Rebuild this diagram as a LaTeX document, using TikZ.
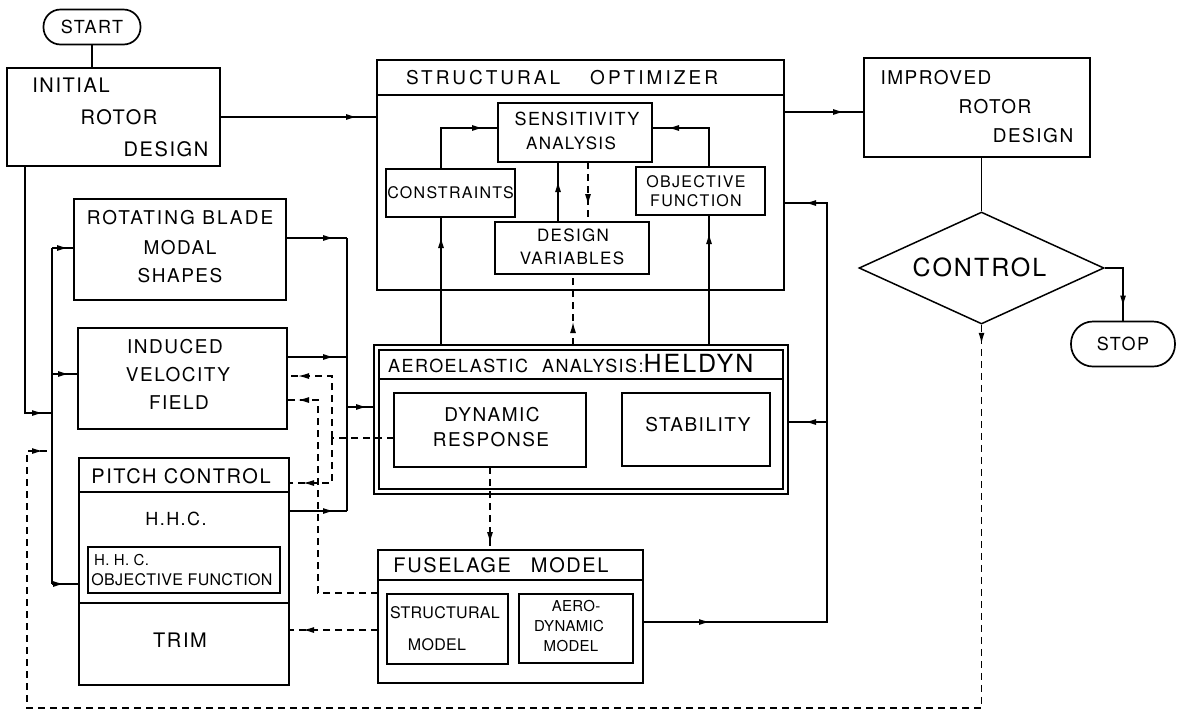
\documentclass[tikz,border=0pt]{standalone}
\usepackage{fontspec}
\setmainfont{TeX Gyre Heros}[LetterSpace=8]
\newfontfamily\tightfont{TeX Gyre Heros}[LetterSpace=2]
\usetikzlibrary{arrows.meta,shapes.geometric,decorations.markings}
\tikzset{
  ln/.style={line width=1.2pt},
  bl/.style={line width=1.7pt},
  bx/.style={draw, line width=1.7pt, inner sep=0pt, outer sep=0pt},
  ibx/.style={draw, line width=1.3pt, inner sep=0pt, outer sep=0pt},
  dsh/.style={dash pattern=on 7pt off 5pt},
  ah/.tip={Latex[length=11pt,width=6pt]},
  ar/.style={postaction={decorate}, decoration={markings, mark=at position #1 with {\arrow{ah}}}},
  arr/.style 2 args={postaction={decorate}, decoration={markings, mark=at position #1 with {\arrow{ah}}, mark=at position #2 with {\arrow{ah}}}},
  tx/.style={inner sep=0pt, font=\fontsize{#1}{#1}\selectfont},
  tt/.style={inner sep=0pt, font=\tightfont\fontsize{#1}{#1}\selectfont},
}
\begin{document}
\begin{tikzpicture}[x=1pt,y=-1pt]
\useasboundingbox (0,0) rectangle (1177,713);

% ---------- helper coordinates ----------
\coordinate (y95) at (0,95);
\coordinate (y379) at (0,379);
\coordinate (y492) at (0,492);
\coordinate (y603) at (0,603);
\coordinate (y580) at (0,580);
\coordinate (c25) at (25,0);
\coordinate (b413) at (52,413);
\coordinate (b451) at (52,451);
\coordinate (b248) at (52,248);
\coordinate (b374) at (52,374);
\coordinate (b584) at (52,584);
\coordinate (r238) at (347,238);
\coordinate (r357) at (347,357);
\coordinate (r407) at (347,407);
\coordinate (r511) at (347,511);
\coordinate (d438) at (332,438);
\coordinate (d376) at (332,376);
\coordinate (d483) at (332,483);
\coordinate (e593) at (318,593);
\coordinate (e400) at (318,400);
\coordinate (t630) at (300,630);
\coordinate (c441) at (441,300);
\coordinate (c709) at (709,300);
\coordinate (c573) at (573,300);
\coordinate (c558) at (558,190);
\coordinate (c588) at (588,190);
\coordinate (s128) at (575,128);
\coordinate (i112) at (820,112);
\coordinate (k622) at (827,622);
\coordinate (k203) at (827,203);
\coordinate (k422) at (827,422);
\coordinate (fb1) at (27,708);

% ---------- boxes ----------
\node[bx, rounded corners=17pt, minimum width=97pt, minimum height=35pt, tx=18] (start) at (92,27) {START};

\node[bx, minimum width=213pt, minimum height=98pt] (init) at (113.5,117) {};
\node[tx=20] (initA) at (71,85) {INITIAL};
\node[tx=20] (initB) at (119,117) {ROTOR};
\node[tx=20] (initC) at (166,149) {DESIGN};

\node[bx, minimum width=212pt, minimum height=101pt] (rot) at (180,249.5) {};
\node[inner sep=0pt, font={\fontsize{19}{19}\selectfont\addfontfeatures{LetterSpace=11}}] (rotA) at (180,218) {ROTATING BLADE};
\node[tx=19] (rotB) at (180,248) {MODAL};
\node[tx=19] (rotC) at (180,276) {SHAPES};

\node[bx, minimum width=209pt, minimum height=101pt] (ind) at (182.5,378.5) {};
\node[tx=19] (indA) at (175,347) {INDUCED};
\node[tx=19] (indB) at (178,375) {VELOCITY};
\node[tx=19] (indC) at (179,403) {FIELD};

\node[bx, minimum width=210pt, minimum height=227pt] (pitch) at (184,571.5) {};
\draw[bl] (pitch.west |- y492) -- (pitch.east |- y492);
\draw[bl] (pitch.west |- y603) -- (pitch.east |- y603);
\node[tx=20] (pitchT) at (181,476) {PITCH CONTROL};
\node[tx=18] (hhcT) at (176,519) {H.H.C.};
\node[ibx, minimum width=192pt, minimum height=46pt] (hhc) at (184,570) {};
\node[tt=15, anchor=west] (hhcA) at (94,560) {H. H. C.};
\node[tt=16] (hhcB) at (182,580) {OBJECTIVE FUNCTION};
\node[tx=20] (trimT) at (180,640) {TRIM};

\node[bx, minimum width=407pt, minimum height=230pt] (so) at (580.5,175) {};
\draw[bl] (so.west |- y95) -- (so.east |- y95);
\node[inner sep=0pt, font={\fontsize{19}{19}\selectfont\addfontfeatures{LetterSpace=16}}] (soT) at (562,78) {STRUCTURAL\hspace{30pt}OPTIMIZER};
\node[ibx, minimum width=154pt, minimum height=59pt] (sens) at (575,132.5) {};
\node[tx=18] (sensA) at (577,118.5) {SENSITIVITY};
\node[tx=17] (sensB) at (571,143.5) {ANALYSIS};
\node[ibx, minimum width=129pt, minimum height=48pt, tx=16] (cons) at (450.5,193) {CONSTRAINTS};
\node[ibx, minimum width=129pt, minimum height=48pt] (obj) at (700.5,191) {};
\node[tx=16] (objA) at (696,181.5) {OBJECTIVE};
\node[tx=16] (objB) at (696,201) {FUNCTION};
\node[ibx, minimum width=154pt, minimum height=52pt] (dv) at (572,248) {};
\node[tx=17] (dvA) at (573,235) {DESIGN};
\node[tx=17] (dvB) at (572,258.5) {VARIABLES};

\node[bx, minimum width=226pt, minimum height=99pt] (imp) at (977,107.5) {};
\node[tx=19] (impA) at (936,77.5) {IMPROVED};
\node[tx=19] (impB) at (995,106.5) {ROTOR};
\node[tx=19] (impC) at (1033,136) {DESIGN};

\node[diamond, draw, line width=1.5pt, minimum width=245pt, minimum height=112pt, inner sep=0pt] (ctl) at (981.5,268) {};
\node[tx=25] (ctlT) at (979.5,267) {CONTROL};

\node[bx, rounded corners=22pt, minimum width=104pt, minimum height=45pt, tx=18] (stop) at (1123,344) {STOP};

\node[bx, minimum width=414pt, minimum height=149pt] (ae) at (581,419.5) {};
\node[draw, line width=1.2pt, minimum width=404pt, minimum height=139pt, inner sep=0pt] (aei) at (581,419.5) {};
\draw[bl] (aei.west |- y379) -- (aei.east |- y379);
\node[inner sep=0pt, anchor=base west] (aeT) at (388,372) {\fontsize{18}{18}\selectfont AEROELASTIC\hspace{14pt}ANALYSIS:\fontsize{25}{25}\selectfont HELDYN};
\node[ibx, minimum width=192pt, minimum height=74pt] (dr) at (490,430) {};
\node[tx=19] (drA) at (492,415) {DYNAMIC};
\node[tx=19] (drB) at (491,440) {RESPONSE};
\node[ibx, minimum width=148pt, minimum height=73pt] (stab) at (696,429.5) {};
\node[tx=19] (stabT) at (698,425) {STABILITY};

\node[bx, minimum width=265pt, minimum height=133pt] (fus) at (510.5,616.5) {};
\draw[bl] (fus.west |- y580) -- (fus.east |- y580);
\node[tx=20] (fusT) at (501,565) {FUSELAGE\hspace{20pt}MODEL};
\node[ibx, minimum width=121pt, minimum height=70pt] (sm) at (447.5,629) {};
\node[tt=16] (smA) at (445,612.5) {STRUCTURAL};
\node[tt=16] (smB) at (437,645) {MODEL};
\node[ibx, minimum width=114pt, minimum height=69pt] (adm) at (576,628.5) {};
\node[tt=15] (admA) at (576,606) {AERO-};
\node[tt=15] (admB) at (569,626.5) {DYNAMIC};
\node[tt=15] (admC) at (571,646.5) {MODEL};

% ---------- connectors ----------
\draw[ln] (start.south) -- (init.north -| start.south);
\draw[ln, ar=-20pt] (init.east) -- (init.east -| so.west);
\draw[ln, ar=-9pt] (init.south -| c25) |- (b413);
% left bus
\draw[ln] (b248) -- (b584);
\draw[ln, ar=-6pt] (b248) -- (rot.west |- b248);
\draw[ln, ar=-9pt] (b374) -- (ind.west |- b374);
\draw[ln, ar=-15pt] (b584) -- (pitch.west |- b584);
% middle bus
\draw[ln, ar=-13pt] (rot.east |- r238) -- (r238);
\draw[ln, ar=-13pt] (ind.east |- r357) -- (r357);
\draw[ln, ar=-13pt] (pitch.east |- r511) -- (r511);
\draw[ln] (r238) -- (r511);
\draw[ln, ar=-7pt] (r407) -- (ae.west |- r407);
% dashed returns
\draw[ln, dsh] (dr.west |- d438) -- (d438);
\draw[ln, dsh, ar=-11pt] (d438) -- (d376) -- (ind.east |- d376);
\draw[ln, dsh, ar=-14pt] (d438) -- (d483) -- (pitch.east |- d483);
\draw[ln, dsh, ar=-11pt] (fus.west |- e593) -- (e593) -- (e400) -- (ind.east |- e400);
\draw[ln, dsh, ar=-14pt] (fus.west |- t630) -- (pitch.east |- t630);
\draw[ln, dsh, ar=-7pt] (dr.south) -- (dr.south |- fus.north);
% to optimizer
\draw[ln, ar=-20pt] (ae.north -| c441) -- (cons.south -| c441);
\draw[ln, ar=-18pt] (ae.north -| c709) -- (obj.south -| c709);
\draw[ln, dsh, ar=23pt] (ae.north -| c573) -- (dv.south -| c573);
% inside optimizer
\draw[ln, ar=-15pt] (cons.north -| c441) |- (sens.west |- s128);
\draw[ln, ar=-16pt] (obj.north -| c709) |- (sens.east |- s128);
\draw[ln, ar=-19pt] (dv.north -| c558) -- (sens.south -| c558);
\draw[ln, dsh, ar=-17pt] (sens.south -| c588) -- (dv.north -| c588);
% right side
\draw[ln, ar=-20pt] (so.east |- i112) -- (imp.west |- i112);
\draw[ln] (imp.south -| ctl.north) -- (ctl.north);
\draw[ln, ar=-15pt] (ctl.east) -| (stop.north);
\draw[ln, dsh, arr={19pt}{-9pt}] (ctl.south) |- (fb1) |- (b451);
\draw[ln, arr={67pt}{-21pt}] (fus.east |- k622) -- (k622) -- (k203) -- (so.east |- k203);
\draw[ln, ar=-17pt] (k422) -- (ae.east |- k422);
\end{tikzpicture}
\end{document}
